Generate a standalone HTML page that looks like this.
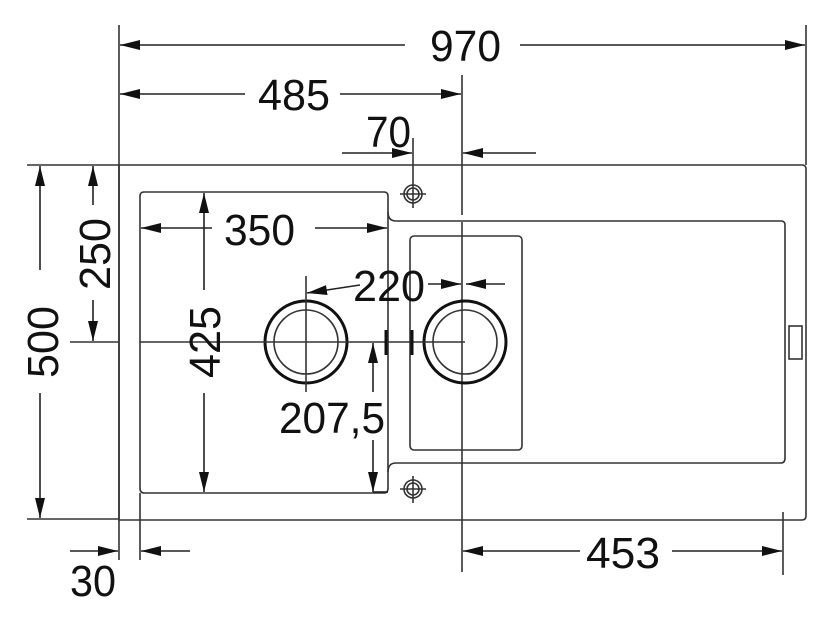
<!DOCTYPE html>
<html><head><meta charset="utf-8"><style>
html,body{margin:0;padding:0;background:#fff;}
svg{display:block;}
text{font-family:"Liberation Sans",sans-serif;font-size:44px;fill:#111;}
</style></head><body>
<svg width="831" height="623" viewBox="0 0 831 623" xmlns="http://www.w3.org/2000/svg">
<defs>
<marker id="a" viewBox="0 0 20 10" refX="20" refY="5" markerWidth="20" markerHeight="10" markerUnits="userSpaceOnUse" orient="auto-start-reverse">
<path d="M0,0 L20,5 L0,10 Z" fill="#111"/></marker>
</defs>
<g stroke="#333" stroke-width="1.6" fill="none">
<path d="M119,165 H802 Q806,165 806,169 V516 Q806,520 802,520 H119 Z"/>
<line x1="27" y1="165" x2="119" y2="165"/>
<line x1="27" y1="519" x2="119" y2="519"/>
<line x1="119" y1="25" x2="119" y2="560"/>
<line x1="806" y1="25" x2="806" y2="165"/>
<line x1="462" y1="75" x2="462" y2="215"/>
<line x1="462" y1="222" x2="462" y2="572"/>
<line x1="140" y1="493" x2="140" y2="560"/>
<line x1="783" y1="512" x2="783" y2="575"/>
<path d="M144,192 H384 Q388,192 388,196 V488 Q388,493 384,493 H144 Q140,493 140,488 V196 Q140,192 144,192 Z"/>
<path d="M388,212 Q388,221 396,221 H781 Q785,221 785,225 V458 Q785,463 781,463 H396 Q388,463 388,472"/>
<rect x="410" y="236" width="112" height="214" rx="4"/>
<rect x="789" y="326" width="13" height="33"/>
<circle cx="413" cy="194" r="9"/><circle cx="413" cy="194" r="6"/>
<line x1="400" y1="194" x2="426" y2="194"/><line x1="413" y1="138" x2="413" y2="208"/>
<circle cx="413" cy="489" r="9"/><circle cx="413" cy="489" r="6"/>
<line x1="400" y1="489" x2="426" y2="489"/><line x1="413" y1="476" x2="413" y2="503"/>
<circle cx="306" cy="342" r="41" stroke-width="3" stroke="#111"/>
<circle cx="306" cy="342" r="32"/>
<circle cx="465" cy="342" r="41" stroke-width="3" stroke="#111"/>
<circle cx="465" cy="342" r="32"/>
<line x1="306" y1="276" x2="306" y2="392"/>
<line x1="70" y1="342" x2="119" y2="342"/>
<line x1="140" y1="342" x2="465" y2="342"/>
<line x1="386" y1="330" x2="386" y2="355" stroke-width="3" stroke="#111"/>
<line x1="412" y1="330" x2="412" y2="355" stroke-width="3" stroke="#111"/>
</g>
<g stroke="#222" stroke-width="1.6" fill="none">
<line x1="120" y1="45" x2="405" y2="45" marker-start="url(#a)"/>
<line x1="520" y1="45" x2="805" y2="45" marker-end="url(#a)"/>
<line x1="120" y1="94" x2="245" y2="94" marker-start="url(#a)"/>
<line x1="340" y1="94" x2="461" y2="94" marker-end="url(#a)"/>
<line x1="342" y1="153" x2="412" y2="153" marker-end="url(#a)"/>
<line x1="536" y1="153" x2="463" y2="153" marker-end="url(#a)"/>
<line x1="40" y1="270" x2="40" y2="166" marker-end="url(#a)"/>
<line x1="40" y1="393" x2="40" y2="518" marker-end="url(#a)"/>
<line x1="93" y1="205" x2="93" y2="166" marker-end="url(#a)"/>
<line x1="93" y1="300" x2="93" y2="341" marker-end="url(#a)"/>
<line x1="212" y1="228" x2="141" y2="228" marker-end="url(#a)"/>
<line x1="315" y1="228" x2="387" y2="228" marker-end="url(#a)"/>
<line x1="204" y1="290" x2="204" y2="193" marker-end="url(#a)"/>
<line x1="204" y1="393" x2="204" y2="492" marker-end="url(#a)"/>
<line x1="360" y1="285" x2="307" y2="293" marker-end="url(#a)"/>
<line x1="428" y1="284" x2="461" y2="284" marker-end="url(#a)"/>
<line x1="505" y1="284" x2="466" y2="284" marker-end="url(#a)"/>
<line x1="373" y1="392" x2="373" y2="343" marker-end="url(#a)"/>
<line x1="373" y1="440" x2="373" y2="492" marker-end="url(#a)"/>
<line x1="373" y1="492" x2="388" y2="492"/>
<line x1="70" y1="551" x2="118" y2="551" marker-end="url(#a)"/>
<line x1="190" y1="551" x2="141" y2="551" marker-end="url(#a)"/>
<line x1="580" y1="551" x2="463" y2="551" marker-end="url(#a)"/>
<line x1="672" y1="551" x2="782" y2="551" marker-end="url(#a)"/>
</g>
<g>
<text x="430" y="61" textLength="71" lengthAdjust="spacingAndGlyphs">970</text>
<text x="258" y="110" textLength="72" lengthAdjust="spacingAndGlyphs">485</text>
<text x="366" y="147" textLength="45" lengthAdjust="spacingAndGlyphs">70</text>
<text x="224" y="245" textLength="71" lengthAdjust="spacingAndGlyphs">350</text>
<text x="353" y="301" textLength="72" lengthAdjust="spacingAndGlyphs">220</text>
<text x="279" y="433" textLength="106" lengthAdjust="spacingAndGlyphs">207,5</text>
<text x="70" y="596" textLength="46" lengthAdjust="spacingAndGlyphs">30</text>
<text x="586" y="568" textLength="74" lengthAdjust="spacingAndGlyphs">453</text>
<text transform="translate(58,378) rotate(-90)" textLength="72" lengthAdjust="spacingAndGlyphs">500</text>
<text transform="translate(110,290) rotate(-90)" textLength="72" lengthAdjust="spacingAndGlyphs">250</text>
<text transform="translate(220,378) rotate(-90)" textLength="72" lengthAdjust="spacingAndGlyphs">425</text>
</g>
</svg>
</body></html>
